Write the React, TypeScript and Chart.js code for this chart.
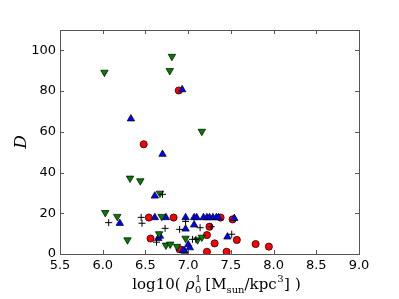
import React, { useEffect, useRef } from "react";
import { Chart, registerables } from "chart.js";

Chart.register(...registerables);

// Red circles
const redX = [6.48, 6.89, 6.54, 6.83, 7.38, 7.52, 6.56, 7.25, 7.22, 7.31, 7.57, 7.79, 7.945, 7.22, 7.45, 6.90];
const redY = [53.9, 80.3, 17.9, 17.9, 17.9, 17.0, 7.6, 13.4, 9.3, 5.2, 6.9, 4.9, 3.6, 1.1, 1.1, 2.3];

// Blue up-triangles
const blueX = [6.93, 6.33, 6.70, 6.61, 6.20, 6.61, 6.74, 6.97, 7.07, 7.10, 7.18, 7.22, 7.25, 7.29, 7.33, 7.355, 7.54, 6.97, 7.07, 6.65, 6.67, 7.46, 6.96, 7.00, 7.02, 6.94];
const blueY = [80.7, 66.4, 49.0, 28.5, 15.1, 17.9, 17.9, 17.9, 17.9, 17.9, 17.9, 17.9, 17.9, 17.9, 17.9, 17.9, 17.5, 12.3, 14.3, 7.7, 8.8, 8.4, 1.4, 4.6, 3.1, 1.8];

// Green down-triangles
const greenX = [6.02, 6.81, 6.785, 7.16, 6.32, 6.44, 6.67, 6.03, 6.17, 6.69, 6.29, 6.66, 6.74, 6.79, 6.87, 6.97, 7.11, 7.16];
const greenY = [89.2, 97.0, 90.0, 60.2, 37.2, 35.9, 29.8, 20.3, 18.4, 18.4, 6.9, 9.9, 4.3, 4.8, 3.7, 7.7, 6.9, 8.2];

// Black plus signs
const plusX = [6.07, 6.45, 6.46, 6.73, 6.90, 6.97, 7.14, 7.27, 7.51, 6.63, 7.05, 7.09, 6.70];
const plusY = [15.4, 18.0, 15.1, 12.6, 12.1, 16.0, 12.9, 13.4, 9.7, 5.8, 7.2, 7.2, 29.3];

const xTicks = [5.5, 6.0, 6.5, 7.0, 7.5, 8.0, 8.5, 9.0];
const yTicks = [0, 20, 40, 60, 80, 100];

const toPts = (xs: number[], ys: number[]) => xs.map((x, i) => ({ x, y: ys[i] }));

const framePlugin = {
  id: "frame",
  afterDraw(chart: any) {
    const { ctx, chartArea, scales } = chart;
    const { left, right, top, bottom } = chartArea;
    ctx.save();
    ctx.strokeStyle = "#555";
    ctx.lineWidth = 1;
    ctx.strokeRect(Math.round(left) + 0.5, Math.round(top) + 0.5, Math.round(right - left), Math.round(bottom - top));
    const tl = 4;
    ctx.beginPath();
    xTicks.forEach((v) => {
      const px = Math.round(scales.x.getPixelForValue(v)) + 0.5;
      ctx.moveTo(px, bottom);
      ctx.lineTo(px, bottom - tl);
      ctx.moveTo(px, top);
      ctx.lineTo(px, top + tl);
    });
    yTicks.forEach((v) => {
      const py = Math.round(scales.y.getPixelForValue(v)) + 0.5;
      ctx.moveTo(left, py);
      ctx.lineTo(left + tl, py);
      ctx.moveTo(right, py);
      ctx.lineTo(right - tl, py);
    });
    ctx.stroke();

    // Y label
    ctx.fillStyle = "#000";
    ctx.font = "italic 17px 'DejaVu Serif'";
    ctx.textAlign = "center";
    ctx.textBaseline = "middle";
    ctx.save();
    ctx.translate(22, 142);
    ctx.rotate(-Math.PI / 2);
    ctx.fillText("D", 0, 0);
    ctx.restore();

    // X label with sub/superscripts
    const main = "15px 'DejaVu Serif'";
    const ital = "italic 15px 'DejaVu Serif'";
    const small = "10px 'DejaVu Serif'";
    type Piece = { t: string; f: string; dy: number };
    type Group = { p: Piece[]; gap: number };
    const seq: Group[] = [
      { p: [{ t: "log10(", f: main, dy: 0 }], gap: 5 },
      { p: [{ t: "ρ", f: ital, dy: 0 }], gap: 0.5 },
      { p: [{ t: "0", f: small, dy: 4 }, { t: "1", f: small, dy: -7 }], gap: 4 },
      { p: [{ t: "[M", f: main, dy: 0 }], gap: 0 },
      { p: [{ t: "sun", f: small, dy: 4 }], gap: 0 },
      { p: [{ t: "/kpc", f: main, dy: 0 }], gap: 0.5 },
      { p: [{ t: "3", f: small, dy: -7 }], gap: 0.5 },
      { p: [{ t: "]", f: main, dy: 0 }], gap: 5 },
      { p: [{ t: ")", f: main, dy: 0 }], gap: 0 },
    ];
    let total = 0;
    const widths = seq.map((grp, i) => {
      let w = 0;
      grp.p.forEach((p) => {
        ctx.font = p.f;
        w = Math.max(w, ctx.measureText(p.t).width);
      });
      total += w + (i < seq.length - 1 ? grp.gap : 0);
      return w;
    });
    let x = 216.5 - total / 2;
    const base = 289;
    ctx.textAlign = "left";
    ctx.textBaseline = "alphabetic";
    seq.forEach((grp, i) => {
      grp.p.forEach((p) => {
        ctx.font = p.f;
        ctx.fillText(p.t, x, base + p.dy);
      });
      x += widths[i] + grp.gap;
    });
    ctx.restore();
  },
};

export default function App() {
  const ref = useRef<HTMLCanvasElement>(null);
  useEffect(() => {
    document.body.style.margin = "0";
    const canvas = ref.current!;
    const chart = new Chart(canvas, {
      type: "scatter",
      data: {
        datasets: [
          {
            data: toPts(plusX, plusY),
            pointStyle: "cross",
            pointRadius: 3.5,
            borderColor: "#000",
            backgroundColor: "#000",
            pointBorderWidth: 1,
          },
          {
            data: toPts(greenX, greenY),
            pointStyle: "triangle",
            rotation: 180,
            pointRadius: 4.3,
            backgroundColor: "#008000",
            borderColor: "#000",
            pointBorderWidth: 0.7,
          },
          {
            data: toPts(blueX, blueY),
            pointStyle: "triangle",
            pointRadius: 4.3,
            backgroundColor: "#0000ff",
            borderColor: "#000",
            pointBorderWidth: 0.7,
          },
          {
            data: toPts(redX, redY),
            pointStyle: "circle",
            pointRadius: 3.6,
            backgroundColor: "#ff0000",
            borderColor: "#000",
            pointBorderWidth: 0.7,
          },
        ] as any,
      },
      options: {
        animation: false,
        responsive: false,
        devicePixelRatio: 1,
        layout: { padding: { left: 0, right: 40, top: 30, bottom: 0 } },
        plugins: { legend: { display: false }, tooltip: { enabled: false } },
        scales: {
          x: {
            type: "linear",
            min: 5.5,
            max: 9.0,
            afterBuildTicks: (s: any) => {
              s.ticks = xTicks.map((v) => ({ value: v }));
            },
            afterFit: (s: any) => {
              s.height = 45;
            },
            ticks: {
              callback: (v: any) => Number(v).toFixed(1),
              font: { family: "'DejaVu Sans'", size: 13 },
              color: "#000",
              padding: 4,
              maxRotation: 0,
              autoSkip: false,
            },
            grid: { display: false, drawTicks: false },
            border: { display: false },
          },
          y: {
            type: "linear",
            min: 0,
            max: 110,
            afterBuildTicks: (s: any) => {
              s.ticks = yTicks.map((v) => ({ value: v }));
            },
            afterFit: (s: any) => {
              s.width = 60;
            },
            ticks: {
              font: { family: "'DejaVu Sans'", size: 13 },
              color: "#000",
              padding: 4,
              autoSkip: false,
            },
            grid: { display: false, drawTicks: false },
            border: { display: false },
          },
        },
      },
      plugins: [framePlugin],
    });
    return () => chart.destroy();
  }, []);
  return (
    <div style={{ position: "fixed", left: 0, top: 0, width: 399, height: 299, background: "#fff" }}>
      <canvas ref={ref} width={399} height={299} />
    </div>
  );
}
